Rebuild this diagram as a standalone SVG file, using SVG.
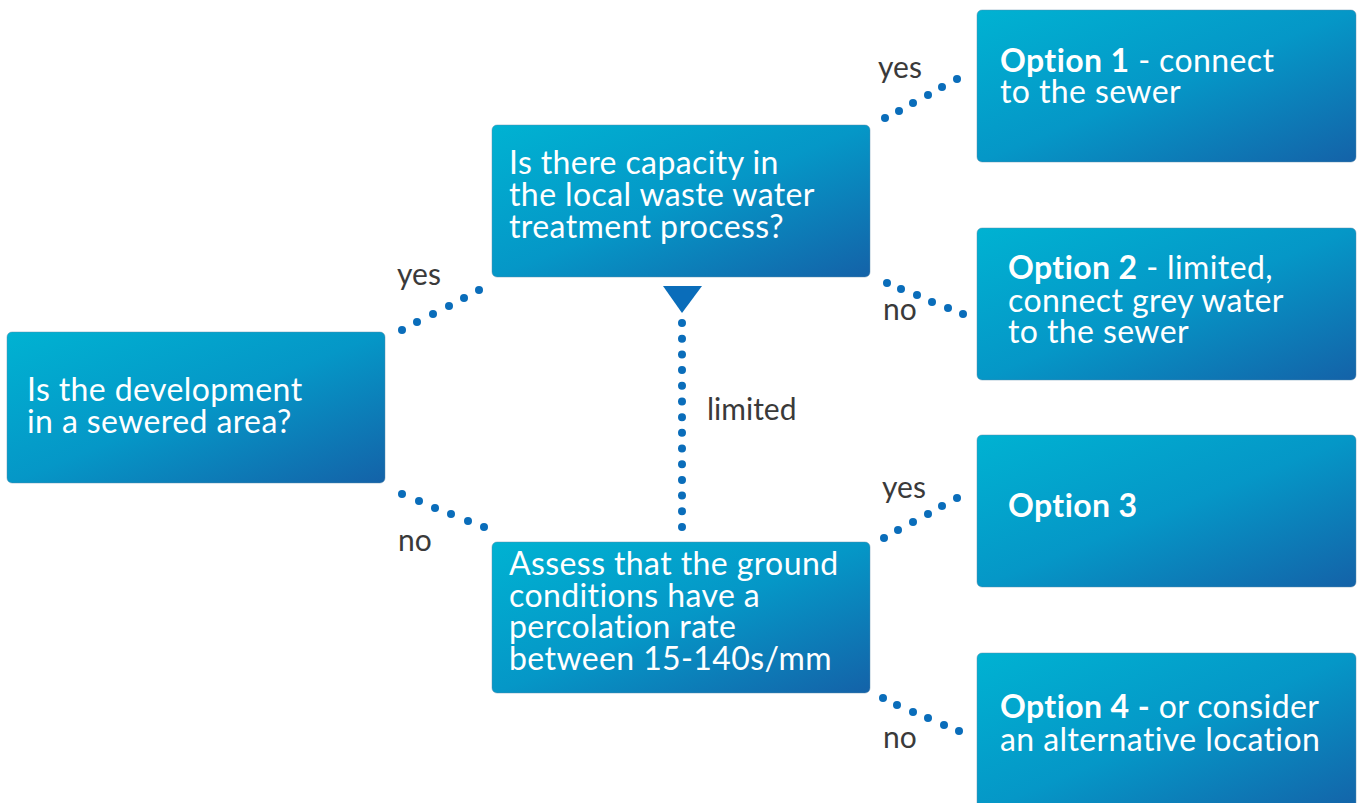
<svg xmlns="http://www.w3.org/2000/svg" width="1362" height="803" viewBox="0 0 1362 803">
<defs>
<linearGradient id="boxg" x1="0" y1="0" x2="1" y2="1">
<stop offset="0" stop-color="#00B2D2"/>
<stop offset="0.5" stop-color="#0597C7"/>
<stop offset="1" stop-color="#1462A8"/>
</linearGradient>
<style>
.box{fill:url(#boxg);stroke:#5a8aa8;stroke-opacity:0.45;stroke-width:1}
.t{font-family:Lato,"Liberation Sans",sans-serif;font-size:32px;letter-spacing:0.4px;fill:#ffffff}
.b{font-weight:bold}
.lbl{font-family:Lato,"Liberation Sans",sans-serif;font-size:30px;fill:#3a3a3a}
.dot{fill:#0A6DBA}
</style>
</defs>
<rect width="1362" height="803" fill="#ffffff"/>
<g id="connectors">
<g id="c-a-b">
<circle class="dot" cx="402" cy="330" r="4"/><circle class="dot" cx="417" cy="322" r="4"/><circle class="dot" cx="433" cy="314" r="4"/><circle class="dot" cx="449" cy="306" r="4"/><circle class="dot" cx="464" cy="298" r="4"/><circle class="dot" cx="479" cy="290" r="4"/>
</g>
<g id="c-a-c">
<circle class="dot" cx="402" cy="494" r="4"/><circle class="dot" cx="419" cy="501" r="4"/><circle class="dot" cx="435" cy="508" r="4"/><circle class="dot" cx="451" cy="514" r="4"/><circle class="dot" cx="468" cy="521" r="4"/><circle class="dot" cx="484" cy="527" r="4"/>
</g>
<g id="c-b-o1">
<circle class="dot" cx="885" cy="118" r="4"/><circle class="dot" cx="899" cy="111" r="4"/><circle class="dot" cx="913" cy="103" r="4"/><circle class="dot" cx="928" cy="95" r="4"/><circle class="dot" cx="942" cy="87" r="4"/><circle class="dot" cx="957" cy="79" r="4"/>
</g>
<g id="c-b-o2">
<circle class="dot" cx="887" cy="283" r="4"/><circle class="dot" cx="901" cy="289" r="4"/><circle class="dot" cx="917" cy="295" r="4"/><circle class="dot" cx="932" cy="302" r="4"/><circle class="dot" cx="948" cy="308" r="4"/><circle class="dot" cx="963" cy="314" r="4"/>
</g>
<g id="c-c-o3">
<circle class="dot" cx="884" cy="538" r="4"/><circle class="dot" cx="898" cy="530" r="4"/><circle class="dot" cx="913" cy="522" r="4"/><circle class="dot" cx="928" cy="514" r="4"/><circle class="dot" cx="942" cy="506" r="4"/><circle class="dot" cx="957" cy="498" r="4"/>
</g>
<g id="c-c-o4">
<circle class="dot" cx="883" cy="698" r="4"/><circle class="dot" cx="897" cy="705" r="4"/><circle class="dot" cx="913" cy="712" r="4"/><circle class="dot" cx="928" cy="718" r="4"/><circle class="dot" cx="944" cy="725" r="4"/><circle class="dot" cx="959" cy="731" r="4"/>
</g>
<g id="c-c-b">
<line x1="682" y1="323" x2="682" y2="527" stroke="#0A6DBA" stroke-width="8" stroke-linecap="round" stroke-dasharray="0 15.69"/>
<polygon points="663,286 702,286 682,313" fill="#0A6DBA"/>
</g>
<text class="lbl" x="397" y="285">yes</text>
<text class="lbl" x="398" y="551">no</text>
<text class="lbl" x="878" y="78">yes</text>
<text class="lbl" x="883" y="320">no</text>
<text class="lbl" x="707" y="420">limited</text>
<text class="lbl" x="882" y="498">yes</text>
<text class="lbl" x="883" y="748">no</text>
</g>
<g id="node-sewered">
<rect class="box" x="7" y="332" width="378" height="151" rx="5"/>
<text class="t"><tspan x="27" y="401">Is the development</tspan><tspan x="27" y="433">in a sewered area?</tspan></text>
</g>
<g id="node-capacity">
<rect class="box" x="492" y="125" width="378" height="152" rx="5"/>
<text class="t"><tspan x="509" y="174">Is there capacity in</tspan><tspan x="509" y="206">the local waste water</tspan><tspan x="509" y="238">treatment process?</tspan></text>
</g>
<g id="node-assess">
<rect class="box" x="492" y="542" width="378" height="151" rx="5"/>
<text class="t"><tspan x="509" y="575">Assess that the ground</tspan><tspan x="509" y="607">conditions have a</tspan><tspan x="509" y="638">percolation rate</tspan><tspan x="509" y="670">between 15-140s/mm</tspan></text>
</g>
<g id="node-option1">
<rect class="box" x="977" y="10" width="379" height="152" rx="5"/>
<text class="t"><tspan x="1000" y="72"><tspan class="b">Option 1</tspan> - connect</tspan><tspan x="1000" y="103">to the sewer</tspan></text>
</g>
<g id="node-option2">
<rect class="box" x="977" y="228" width="379" height="152" rx="5"/>
<text class="t"><tspan x="1008" y="279"><tspan class="b">Option 2</tspan> - limited,</tspan><tspan x="1008" y="312">connect grey water</tspan><tspan x="1008" y="343">to the sewer</tspan></text>
</g>
<g id="node-option3">
<rect class="box" x="977" y="435" width="379" height="152" rx="5"/>
<text class="t b" x="1008" y="517">Option 3</text>
</g>
<g id="node-option4">
<rect class="box" x="977" y="653" width="379" height="160" rx="5"/>
<text class="t"><tspan x="1000" y="718"><tspan class="b">Option 4 -</tspan> or consider</tspan><tspan x="1000" y="751">an alternative location</tspan></text>
</g>
</svg>
